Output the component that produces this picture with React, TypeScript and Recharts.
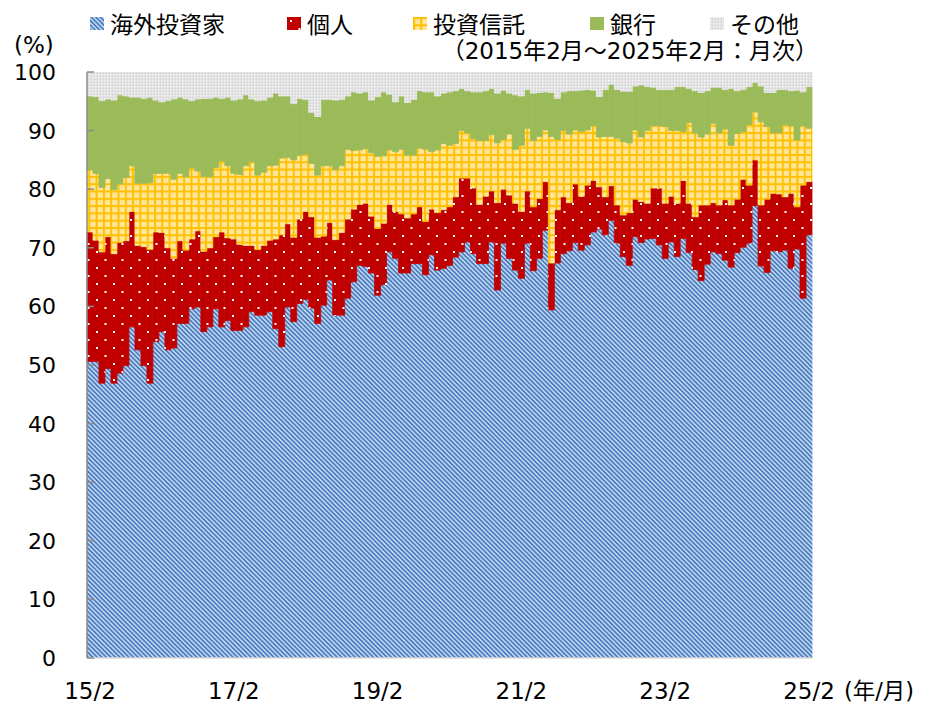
import React from "react";
import { BarChart, Bar, XAxis, YAxis } from "recharts";

const FONT = '"DejaVu Sans", "Noto Sans CJK JP", sans-serif';

// monthly categories 15/2 .. 25/2
const months: string[] = [];
for (let i = 0; i < 121; i++) {
  const m = i + 1;
  months.push(`${15 + Math.floor(m / 12)}/${(m % 12) + 1}`);
}

const yTicks = [0, 10, 20, 30, 40, 50, 60, 70, 80, 90, 100];

// shares (%), Feb 2015 -> Feb 2025
const foreign = [
  50.6, 50.6, 46.9, 49.4, 46.9, 48.6, 49.9, 56.5, 52.6, 49.9,
  46.9, 54.0, 55.7, 52.6, 52.9, 57.1, 57.1, 59.6, 59.9, 55.7,
  56.5, 59.6, 56.5, 57.6, 55.9, 55.9, 56.5, 59.1, 58.5, 58.5,
  59.1, 56.2, 53.1, 59.9, 57.4, 60.5, 61.2, 59.7, 57.1, 60.2,
  64.5, 58.5, 58.5, 61.4, 64.2, 67.0, 66.8, 65.7, 61.9, 63.7,
  69.3, 68.2, 65.7, 65.7, 67.3, 67.3, 65.4, 68.8, 66.2, 66.5,
  67.0, 68.4, 69.3, 71.0, 69.0, 67.3, 67.3, 71.0, 62.8, 70.8,
  68.2, 66.2, 64.8, 70.8, 66.1, 68.2, 73.0, 59.4, 67.4, 69.0,
  69.5, 70.9, 69.6, 70.5, 72.7, 73.2, 72.2, 74.7, 70.8, 68.5,
  67.0, 71.9, 70.9, 71.5, 71.6, 70.5, 68.2, 71.0, 68.5, 71.6,
  69.2, 66.3, 64.4, 67.2, 69.3, 69.0, 67.9, 66.7, 69.2, 70.1,
  70.8, 77.2, 66.9, 65.8, 69.5, 69.3, 69.6, 66.5, 69.8, 61.4, 72.2,
];
const individual = [
  22.1, 20.7, 22.4, 22.5, 22.1, 22.3, 21.3, 19.7, 17.8, 20.3,
  22.8, 18.7, 16.9, 17.4, 15.3, 14.1, 12.5, 11.9, 13.0, 13.7,
  13.5, 12.3, 16.2, 14.1, 15.6, 14.7, 13.9, 11.3, 11.2, 11.9,
  12.2, 15.3, 19.1, 14.2, 14.4, 14.4, 15.0, 15.6, 14.7, 11.8,
  9.8, 12.9, 14.1, 13.5, 12.4, 10.4, 10.8, 9.7, 11.4, 10.5,
  8.1, 8.0, 10.1, 9.4, 8.5, 9.7, 9.1, 7.8, 9.8, 10.0,
  10.0, 10.3, 12.6, 10.9, 11.2, 10.1, 11.5, 8.7, 14.9, 9.2,
  10.8, 11.4, 11.4, 8.9, 10.9, 10.2, 8.3, 8.0, 9.1, 9.7,
  8.2, 10.0, 9.2, 10.2, 8.8, 7.2, 6.5, 5.9, 6.5, 7.1,
  9.0, 6.4, 7.0, 6.1, 8.6, 9.7, 9.4, 7.8, 9.1, 9.9,
  8.4, 9.0, 12.9, 10.1, 8.4, 8.3, 10.3, 10.6, 9.1, 11.6,
  9.9, 7.8, 10.4, 12.5, 9.8, 9.9, 9.1, 12.8, 7.2, 19.3, 9.1,
];
const trust = [
  10.6, 11.4, 11.0, 9.9, 10.9, 10.0, 10.8, 7.8, 10.6, 10.8,
  11.4, 10.0, 10.1, 12.7, 13.5, 11.5, 12.5, 12.1, 10.2, 12.8,
  12.1, 11.8, 12.1, 12.3, 11.2, 11.9, 13.6, 14.3, 12.7, 12.5,
  12.7, 12.6, 13.1, 11.3, 13.2, 10.9, 9.8, 9.1, 10.6, 12.0,
  9.7, 11.9, 11.4, 11.9, 10.0, 9.3, 9.3, 10.8, 12.3, 11.5,
  9.3, 10.2, 11.0, 10.7, 10.0, 10.0, 12.3, 9.8, 10.7, 11.3,
  10.5, 9.1, 8.1, 7.7, 8.4, 10.9, 9.5, 9.6, 10.2, 8.5,
  10.4, 9.2, 11.3, 10.7, 11.3, 10.6, 8.8, 21.6, 12.0, 11.3,
  11.7, 9.2, 11.0, 9.4, 9.3, 8.5, 10.3, 8.4, 11.4, 12.5,
  11.9, 11.8, 11.0, 12.4, 10.6, 10.6, 13.1, 11.2, 12.4, 8.3,
  13.8, 14.3, 11.6, 12.1, 13.5, 12.3, 12.1, 10.2, 11.2, 8.1,
  10.3, 8.2, 14.2, 12.4, 10.3, 10.4, 12.3, 11.5, 11.4, 10.1, 9.1,
];
const bank = [
  12.6, 13.1, 14.8, 13.6, 15.3, 15.2, 13.9, 11.7, 14.7, 14.5,
  14.6, 12.5, 12.2, 12.4, 13.7, 13.0, 13.3, 11.5, 12.3, 13.3,
  13.4, 12.0, 10.7, 11.7, 12.5, 12.9, 12.1, 10.7, 12.7, 12.3,
  11.7, 12.3, 10.6, 10.5, 9.6, 9.7, 9.3, 8.7, 10.0, 11.3,
  11.3, 11.9, 11.3, 9.1, 10.0, 9.7, 9.7, 9.0, 10.2, 10.9,
  9.5, 8.5, 9.1, 9.0, 9.5, 9.8, 9.8, 10.2, 9.2, 8.6,
  9.1, 9.0, 7.2, 7.2, 8.0, 8.3, 8.5, 7.9, 8.5, 8.4,
  7.0, 9.3, 8.4, 6.6, 8.1, 7.5, 6.5, 7.5, 7.0, 6.6,
  7.4, 6.7, 7.1, 6.9, 6.1, 6.9, 8.0, 8.9, 8.3, 8.6,
  8.8, 7.5, 8.9, 7.5, 6.6, 6.2, 6.3, 7.0, 7.5, 7.7,
  5.8, 7.2, 7.6, 7.4, 6.2, 7.8, 6.7, 9.7, 7.3, 7.2,
  6.5, 5.0, 6.1, 5.8, 6.9, 7.4, 6.0, 6.0, 8.5, 5.8, 7.1,
];
const other = [
  4.1, 4.2, 4.9, 4.6, 4.8, 3.9, 4.1, 4.3, 4.3, 4.5,
  4.3, 4.8, 5.1, 4.9, 4.6, 4.3, 4.6, 4.9, 4.6, 4.5,
  4.5, 4.3, 4.5, 4.3, 4.8, 4.6, 3.9, 4.6, 4.9, 4.8,
  4.3, 3.6, 4.1, 4.1, 5.4, 4.5, 4.7, 6.9, 7.6, 4.7,
  4.7, 4.8, 4.7, 4.1, 3.4, 3.6, 3.4, 4.8, 4.2, 3.4,
  3.8, 5.1, 4.1, 5.2, 4.7, 3.2, 3.4, 3.4, 4.1, 3.6,
  3.4, 3.2, 2.8, 3.2, 3.4, 3.4, 3.2, 2.8, 3.6, 3.1,
  3.6, 3.9, 4.1, 3.0, 3.6, 3.5, 3.4, 3.5, 4.5, 3.4,
  3.2, 3.2, 3.1, 3.0, 3.1, 4.2, 3.0, 2.1, 3.0, 3.3,
  3.3, 2.4, 2.2, 2.5, 2.6, 3.0, 3.0, 3.0, 2.5, 2.5,
  2.8, 3.2, 3.5, 3.2, 2.6, 2.6, 3.0, 2.8, 3.2, 3.0,
  2.5, 1.8, 2.4, 3.5, 3.5, 3.0, 3.0, 3.2, 3.1, 3.4, 2.5,
];

const series = [
  { key: "foreign", name: "海外投資家", fill: "url(#pFor)", legendLeft: 82 },
  { key: "individual", name: "個人", fill: "url(#pInd)", legendLeft: 279 },
  { key: "trust", name: "投資信託", fill: "url(#pTru)", legendLeft: 405 },
  { key: "bank", name: "銀行", fill: "#9BBB59", legendLeft: 582 },
  { key: "other", name: "その他", fill: "url(#pOth)", legendLeft: 702 },
];

const data = months.map((month, i) => ({
  month,
  foreign: foreign[i],
  individual: individual[i],
  trust: trust[i],
  bank: bank[i],
  other: other[i],
}));

const Patterns = () => (
  <svg width={0} height={0} style={{ position: "absolute" }}>
    <defs>
      <pattern id="pFor" patternUnits="userSpaceOnUse" width={3.2} height={3.2} patternTransform="rotate(-45)">
        <rect width={3.2} height={3.2} fill="#C5D9F1" />
        <rect width={1.7} height={3.2} fill="#4A7CC0" />
      </pattern>
      <pattern id="pInd" patternUnits="userSpaceOnUse" width={17} height={16}>
        <rect width={17} height={16} fill="#C00000" />
        <rect x={3} y={3} width={2} height={2} fill="#fff" />
        <rect x={11.5} y={11} width={2} height={2} fill="#fff" />
      </pattern>
      <pattern id="pTru" patternUnits="userSpaceOnUse" width={7.3} height={7.3}>
        <rect width={7.3} height={7.3} fill="#FFC000" />
        <rect x={2} y={2} width={5.3} height={5.3} fill="#FFE699" />
      </pattern>
      <pattern id="pOth" patternUnits="userSpaceOnUse" width={3} height={3}>
        <rect width={3} height={3} fill="#DCDCDC" />
        <rect width={1.5} height={1.5} fill="#F8F8F8" />
      </pattern>
    </defs>
  </svg>
);

const YTick = (props: any) => {
  const { y, payload } = props;
  return (
    <g>
      <line x1={79} x2={86} y1={y} y2={y} stroke="#8C8C8C" strokeWidth={1.5} />
      <text x={48} y={y} dy={8} textAnchor="end" fontSize={22} fontFamily={FONT} fill="#000">
        {payload.value}
      </text>
    </g>
  );
};

const XTick = (props: any) => {
  const { x, payload } = props;
  return (
    <g>
      <text x={x} y={691} textAnchor="middle" fontSize={23} fontFamily={FONT} fill="#000">
        {payload.value}
      </text>
      {payload.value === "25/2" && (
        <text x={x + 35} y={691} textAnchor="start" fontSize={22.5} fontFamily={FONT} fill="#000">
          (年/月)
        </text>
      )}
    </g>
  );
};

export default function App() {
  return (
    <div style={{ position: "relative", width: 917, height: 696, fontFamily: FONT }}>
      <Patterns />
      {series.map((s) => (
        <div
          key={s.key}
          style={{
            position: "absolute",
            left: s.legendLeft,
            top: 0,
            height: 30,
            display: "flex",
            alignItems: "center",
            fontSize: 23,
            whiteSpace: "nowrap",
          }}
        >
          <svg width={14} height={13} style={{ marginRight: 6 }}>
            <rect width={14} height={13} fill={s.fill} />
          </svg>
          {s.name}
        </div>
      ))}
      <div style={{ position: "absolute", left: 6, top: 24, fontSize: 23 }}>(%)</div>
      <div style={{ position: "absolute", right: 107, top: 24, fontSize: 23 }}>
        （2015年2月～2025年2月：月次）
      </div>
      <BarChart
        width={917}
        height={696}
        data={data}
        margin={{ top: 64, right: 113, bottom: 16, left: 0 }}
        barCategoryGap={0}
        barGap={0}
        style={{ position: "absolute", left: 0, top: 0 }}
      >
        {series.map((s) => (
          <Bar
            key={s.key}
            dataKey={s.key}
            name={s.name}
            stackId="a"
            fill={s.fill}
            stroke={s.fill}
            strokeWidth={0.8}
            isAnimationActive={false}
          />
        ))}
        <XAxis
          dataKey="month"
          interval={23}
          tickLine={false}
          axisLine={{ stroke: "#D9D9D9", strokeWidth: 1.5 }}
          tick={<XTick />}
          height={30}
        />
        <YAxis
          domain={[0, 100]}
          allowDataOverflow
          ticks={yTicks}
          width={79}
          tickLine={false}
          axisLine={{ stroke: "#8C8C8C", strokeWidth: 1.5 }}
          tick={<YTick />}
        />
      </BarChart>
    </div>
  );
}
